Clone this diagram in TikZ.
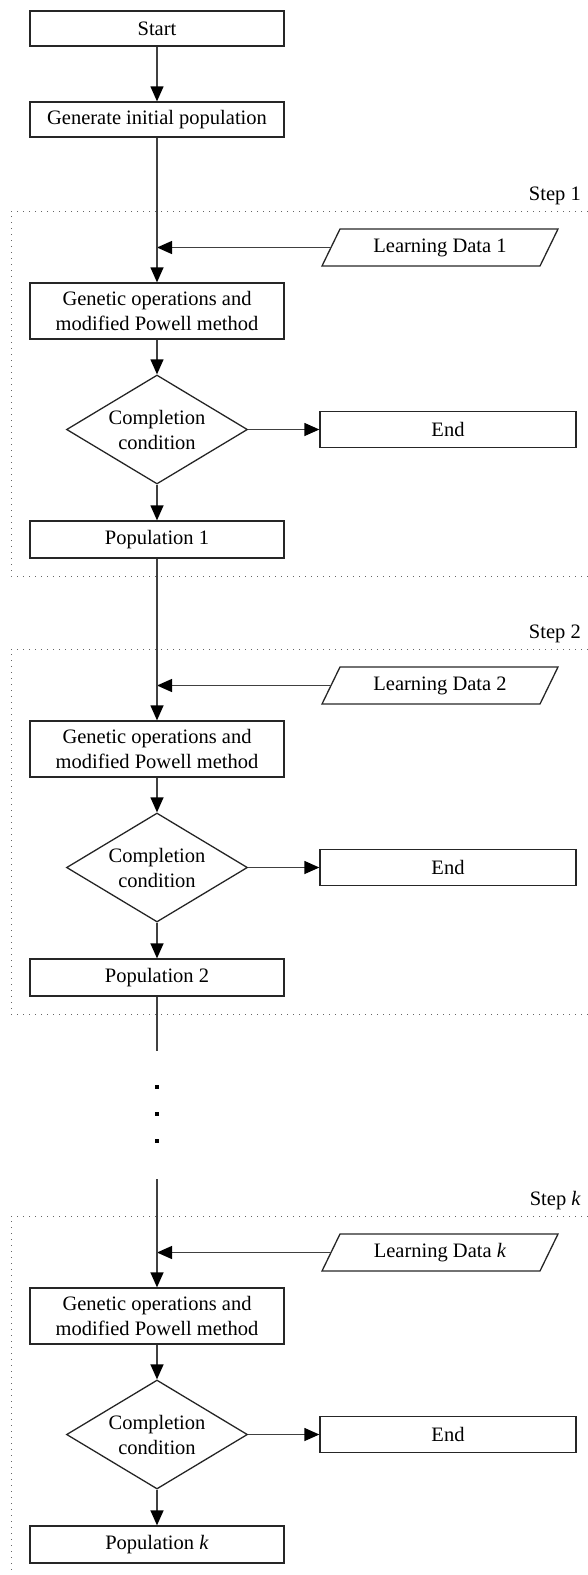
\documentclass[tikz,border=0pt]{standalone}
\usepackage{fontspec}
\setmainfont{Liberation Serif}
\usetikzlibrary{arrows.meta,shapes.geometric,calc}
\begin{document}
\begin{tikzpicture}[x=1pt,y=-1pt,
  every node/.style={font=\fontsize{20.5}{25}\selectfont},
  box/.style={draw=black!85, line width=1.3pt, rectangle, minimum width=254pt, inner sep=0pt, align=center},
  ldtext/.style={inner sep=0pt},
  pgram/.style={draw=black!85, line width=1.3pt},
  dia/.style={draw=black!85, line width=1.3pt, diamond, minimum width=181pt, minimum height=109pt, inner sep=0pt, align=center, aspect=1.66},
  conn/.style={draw=black!75, line width=1.3pt},
  arr/.style={conn, -{Triangle[length=15pt,width=13pt,color=black]}},
  frame/.style={draw=black!60, line width=0.9pt, dash pattern=on 1pt off 5pt},
  steplbl/.style={anchor=base east, inner sep=0pt},
  dotsq/.style={fill=black, minimum size=3.5pt, inner sep=0pt, rectangle}
]
\useasboundingbox (0,0) rectangle (588,1575);

% dotted step frames
\draw[frame] (588,211) -- (11,211) -- (11,576) -- (588,576);
\draw[frame] (588,649) -- (11,649) -- (11,1014) -- (588,1014);
\draw[frame] (588,1216) -- (11,1216) -- (11,1575);

\node[box, minimum height=35pt] (start) at (157,28.5) {Start};
\node[box, minimum height=35pt] (gen) at (157,119.5) {Generate initial population};

\foreach \o/\n/\lab in {0/1/1, 438/2/2, 1005/k/\textit{k}}{
  \node[steplbl] (s\n) at (581,200.5+\o) {Step \lab};
  \node[box, minimum height=56pt] (g\n) at (157,311+\o) {Genetic operations and\\modified Powell method};
  \node[dia] (d\n) at (157,429.5+\o) {Completion\\condition};
  \node[box, minimum width=256pt, minimum height=36pt] (e\n) at (448,429.5+\o) {End};
  \node[box, minimum height=37pt] (p\n) at (157,539.5+\o) {Population \lab};
  \node[ldtext] (ld\n) at (440,247.5+\o) {Learning Data \lab};
  \draw[pgram] ($(ld\n)+(-100,-18.5)$) -- ($(ld\n)+(118,-18.5)$) -- ($(ld\n)+(100,18.5)$) -- ($(ld\n)+(-118,18.5)$) -- cycle;
  \coordinate (ldw\n) at ($(ld\n)+(-109,0)$);
  \coordinate (j\n) at (157,247.5+\o);
  \draw[arr] (ldw\n) -- (j\n);
  \draw[arr] (g\n) -- (d\n);
  \draw[arr] (d\n) -- (e\n);
  \draw[arr] (d\n) -- (p\n);
}

\draw[arr] (start) -- (gen);
\draw[arr] (gen) -- (g1);
\draw[arr] (p1) -- (g2);
\coordinate (c1) at (157,1051);
\coordinate (c2) at (157,1179);
\draw[conn] (p2) -- (c1);
\node[dotsq] (dot1) at (157,1087) {};
\node[dotsq] (dot2) at (157,1114) {};
\node[dotsq] (dot3) at (157,1141) {};
\draw[arr] (c2) -- (gk);
\end{tikzpicture}
\end{document}
